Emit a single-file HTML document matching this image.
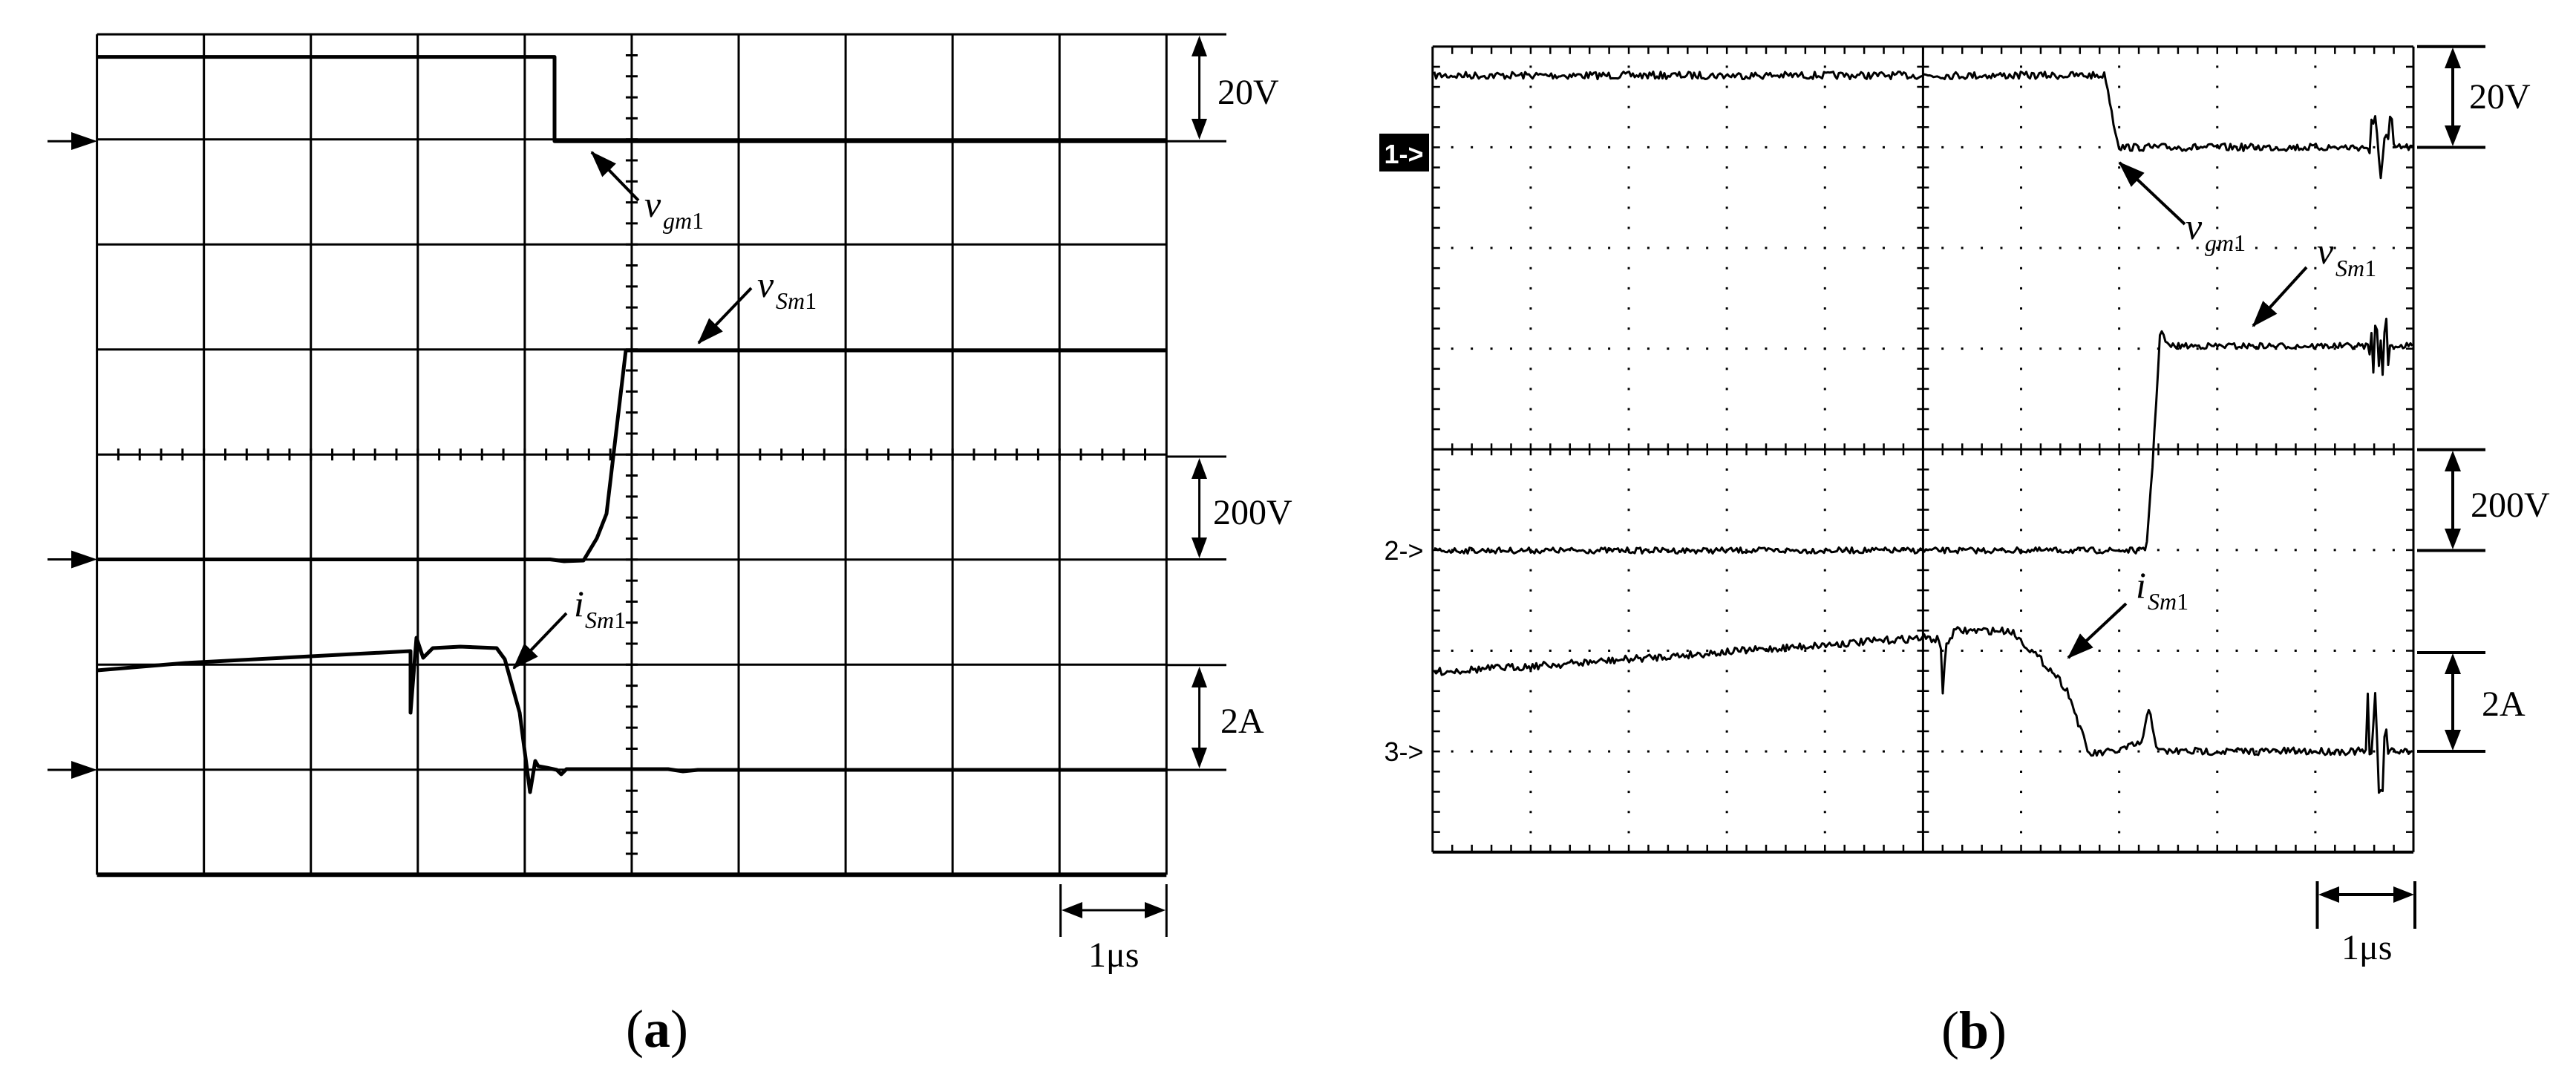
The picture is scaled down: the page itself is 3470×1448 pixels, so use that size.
<!DOCTYPE html>
<html><head><meta charset="utf-8"><style>
html,body{margin:0;padding:0;background:#fff;}
svg{display:block;}
text{font-family:"Liberation Serif",serif;fill:#000;}
</style></head><body>
<svg id="s" width="3470" height="1448" viewBox="0 0 3470 1448" xmlns="http://www.w3.org/2000/svg">
<defs>
<marker id="ah" markerWidth="36" markerHeight="26" refX="34" refY="13" orient="auto" markerUnits="userSpaceOnUse" viewBox="0 0 36 26"><path d="M0,0 L36,13 L0,26 z" fill="#000"/></marker>
</defs>
<rect width="3470" height="1448" fill="#fff"/>
<g id="gridA" stroke="#000" stroke-width="3" fill="none"></g>
<g id="gridB" fill="none"></g>

<!-- (a) traces -->
<g stroke="#000" stroke-width="5" fill="none" stroke-linejoin="round">
<polyline points="130.6,76.6 747,76.6 747,190.2 1571,190.2"/>
<polyline points="130.6,753.5 741,753.5 760,756 786,755 804,725 817,692 843,472 1571,472"/>
<polyline points="130.6,903 250,893 400,885 553,877 553,960 561,859 570,886 583,873 620,871 669,873 680,888 700,960 714,1067 721,1025 725,1032 736,1034 750,1037 756,1043 763,1036 900,1036 920,1039 940,1037 1571,1037"/>
</g>
<!-- (a) left arrows -->
<g stroke="#000" stroke-width="3">
<line x1="64" y1="190.2" x2="110" y2="190.2"/><line x1="64" y1="753.5" x2="110" y2="753.5"/><line x1="64" y1="1037" x2="110" y2="1037"/>
</g>
<g fill="#000">
<path d="M96,178 L131,190.2 L96,202 z"/><path d="M96,741.5 L131,753.5 L96,765.5 z"/><path d="M96,1025 L131,1037 L96,1049 z"/>
</g>
<!-- (a) scale brackets -->
<g stroke="#000" stroke-width="3">
<line x1="1571" y1="46.2" x2="1652" y2="46.2"/><line x1="1571" y1="190.2" x2="1652" y2="190.2"/>
<line x1="1571" y1="615" x2="1652" y2="615"/><line x1="1571" y1="753.5" x2="1652" y2="753.5"/>
<line x1="1571" y1="895.7" x2="1652" y2="895.7"/><line x1="1571" y1="1037" x2="1652" y2="1037"/>
<line x1="1615.6" y1="60" x2="1615.6" y2="176"/><line x1="1615.6" y1="629" x2="1615.6" y2="740"/><line x1="1615.6" y1="910" x2="1615.6" y2="1023"/>
<line x1="1428.6" y1="1191" x2="1428.6" y2="1262"/><line x1="1571.3" y1="1191" x2="1571.3" y2="1262"/>
<line x1="1442" y1="1226" x2="1558" y2="1226"/>
</g>
<g fill="#000">
<path d="M1605,76 L1615.6,48 L1626,76 z"/><path d="M1605,160 L1615.6,188 L1626,160 z"/>
<path d="M1605,645 L1615.6,617 L1626,645 z"/><path d="M1605,724 L1615.6,752 L1626,724 z"/>
<path d="M1605,926 L1615.6,898 L1626,926 z"/><path d="M1605,1007 L1615.6,1035 L1626,1007 z"/>
<path d="M1458,1215 L1430,1226 L1458,1237 z"/><path d="M1542,1215 L1570,1226 L1542,1237 z"/>
</g>
<g font-size="48">
<text x="1640" y="140">20V</text><text x="1634" y="706">200V</text><text x="1644" y="987">2A</text>
<text x="1466" y="1302">1μs</text>
</g>
<!-- (a) annotations -->
<g stroke="#000" stroke-width="4" marker-end="url(#ah)">
<line x1="860" y1="270" x2="797" y2="205"/>
<line x1="1012" y1="388" x2="941" y2="462"/>
<line x1="763" y1="826" x2="692" y2="900"/>
</g>
<g font-style="italic">
<text x="868" y="292" font-size="50">v</text><text x="893" y="308" font-size="32">gm<tspan font-style="normal">1</tspan></text>
<text x="1020" y="400" font-size="50">v</text><text x="1045" y="416" font-size="32">Sm<tspan font-style="normal">1</tspan></text>
<text x="773" y="830" font-size="50">i</text><text x="788" y="846" font-size="32">Sm<tspan font-style="normal">1</tspan></text>
</g>
<text x="885" y="1410" font-size="72" text-anchor="middle">(<tspan font-weight="bold">a</tspan>)</text>

<!-- (b) -->
<g id="traceB" stroke="#000" stroke-width="3" fill="none" stroke-linejoin="round">
<polyline id="b1" points="1932,101.6 2836,101.6 2848,170 2855,198.5 3251,198.5"/>
<polyline id="b2" points="1932,741.5 2891,741.5 2900,620 2910,443 2920,466 3251,466"/>
<polyline id="b3" points="1932,905 2100,895 2300,880 2590,859 2614,862 2617,934 2621,870 2633,849.6 2709,849.6 2740,880 2770,910 2786,932.7 2800,975 2814,1016 2850,1012 2886,1000 2895,951 2906,1012 3251,1012"/>
</g>
<!-- channel markers -->
<rect x="1858" y="180" width="67" height="51" fill="#000"/>
<text x="1891" y="220" font-size="36" text-anchor="middle" style="fill:#fff;font-family:'Liberation Sans',sans-serif;font-weight:bold">1-&gt;</text>
<text x="1891" y="754" font-size="36" text-anchor="middle" style="font-family:'Liberation Sans',sans-serif;">2-&gt;</text>
<text x="1891" y="1025" font-size="36" text-anchor="middle" style="font-family:'Liberation Sans',sans-serif;">3-&gt;</text>
<!-- (b) scale brackets -->
<g stroke="#000" stroke-width="4">
<line x1="3256" y1="62.8" x2="3348" y2="62.8"/><line x1="3256" y1="198.5" x2="3348" y2="198.5"/>
<line x1="3256" y1="605.8" x2="3348" y2="605.8"/><line x1="3256" y1="741.5" x2="3348" y2="741.5"/>
<line x1="3256" y1="879" x2="3348" y2="879"/><line x1="3256" y1="1012" x2="3348" y2="1012"/>
<line x1="3304" y1="76" x2="3304" y2="185"/><line x1="3304" y1="619" x2="3304" y2="728"/><line x1="3304" y1="892" x2="3304" y2="999"/>
<line x1="3121.5" y1="1187" x2="3121.5" y2="1251"/><line x1="3253" y1="1187" x2="3253" y2="1251"/>
<line x1="3135" y1="1205" x2="3240" y2="1205"/>
</g>
<g fill="#000">
<path d="M3293,92 L3304,64 L3315,92 z"/><path d="M3293,169 L3304,197 L3315,169 z"/>
<path d="M3293,635 L3304,607 L3315,635 z"/><path d="M3293,712 L3304,740 L3315,712 z"/>
<path d="M3293,908 L3304,880 L3315,908 z"/><path d="M3293,983 L3304,1011 L3315,983 z"/>
<path d="M3151,1194 L3123,1205 L3151,1216 z"/><path d="M3224,1194 L3252,1205 L3224,1216 z"/>
</g>
<g font-size="48">
<text x="3326" y="146">20V</text><text x="3328" y="696">200V</text><text x="3343" y="964">2A</text>
<text x="3154" y="1292">1μs</text>
</g>
<g stroke="#000" stroke-width="4" marker-end="url(#ah)">
<line x1="2943" y1="302" x2="2855" y2="219"/>
<line x1="3107" y1="360" x2="3035" y2="439"/>
<line x1="2864" y1="813" x2="2786" y2="886"/>
</g>
<g font-style="italic">
<text x="2944" y="322" font-size="50">v</text><text x="2970" y="338" font-size="32">gm<tspan font-style="normal">1</tspan></text>
<text x="3121" y="355" font-size="50">v</text><text x="3146" y="372" font-size="32">Sm<tspan font-style="normal">1</tspan></text>
<text x="2877" y="805" font-size="50">i</text><text x="2893" y="821" font-size="32">Sm<tspan font-style="normal">1</tspan></text>
</g>
<text x="2659" y="1412" font-size="72" text-anchor="middle">(<tspan font-weight="bold">b</tspan>)</text>
</svg>
<script>
(function(){
var NS="http://www.w3.org/2000/svg";
function L(g,x1,y1,x2,y2,w,extra){var l=document.createElementNS(NS,"line");l.setAttribute("x1",x1);l.setAttribute("y1",y1);l.setAttribute("x2",x2);l.setAttribute("y2",y2);l.setAttribute("stroke","#000");l.setAttribute("stroke-width",w);if(extra)for(var k in extra)l.setAttribute(k,extra[k]);g.appendChild(l);}
var gA=document.getElementById("gridA");
var x0=130.6,x1=1571.3,y0=46.2,y1=1178.3,dx=(x1-x0)/10,dy=(y1-y0)/8;
for(var i=0;i<=10;i++){var x=x0+i*dx;L(gA,x,y0,x,y1,3);}
for(var j=0;j<=8;j++){var y=y0+j*dy;L(gA,x0,y,x1,y,j==8?6:3);}
var cx=x0+5*dx,cy=y0+4*dy;
for(var k=1;k<40;k++){var y=y0+k*dy/5;L(gA,cx-8,y,cx+8,y,3);}
for(var k=1;k<50;k++){var x=x0+k*dx/5;L(gA,x,cy-8,x,cy+8,3);}
var gB=document.getElementById("gridB");
var bx0=1929.8,bx1=3251,by0=62.8,by1=1147.8,bdx=(bx1-bx0)/10,bdy=(by1-by0)/8;
var bcx=bx0+5*bdx,bcy=by0+4*bdy;
for(var i=1;i<10;i++){if(i==5)continue;var x=bx0+i*bdx;L(gB,x,by0,x,by1,3,{"stroke-dasharray":"3 "+(bdy/5-3).toFixed(2),"stroke-dashoffset":"-"+(bdy/5-1.5).toFixed(2)});}
for(var j=1;j<8;j++){if(j==4)continue;var y=by0+j*bdy;L(gB,bx0,y,bx1,y,3,{"stroke-dasharray":"3 "+(bdx/5-3).toFixed(2),"stroke-dashoffset":"-"+(bdx/5-1.5).toFixed(2)});}
L(gB,bx0,by0,bx1,by0,3);L(gB,bx0,by1,bx1,by1,4);L(gB,bx0,by0,bx0,by1,3);L(gB,bx1,by0,bx1,by1,3);
L(gB,bcx,by0,bcx,by1,3);L(gB,bx0,bcy,bx1,bcy,3);
for(var k=1;k<50;k++){var x=bx0+k*bdx/5;L(gB,x,by0,x,by0+10,2.5);L(gB,x,by1,x,by1-10,2.5);L(gB,x,bcy-8,x,bcy+8,2.5);}
for(var k=1;k<40;k++){var y=by0+k*bdy/5;L(gB,bx0,y,bx0+10,y,2.5);L(gB,bx1,y,bx1-10,y,2.5);L(gB,bcx-8,y,bcx+8,y,2.5);}
var seed=7;function r(){seed=(seed*16807)%2147483647;return seed/2147483647-0.5;}
function interp(pts,x){for(var i=0;i<pts.length-1;i++){if(x>=pts[i][0]&&x<=pts[i+1][0]){var t=(x-pts[i][0])/((pts[i+1][0]-pts[i][0])||1);return pts[i][1]+t*(pts[i+1][1]-pts[i][1]);}}return pts[pts.length-1][1];}
function noisy(id,amp,bursts){var el=document.getElementById(id);var raw=el.getAttribute("points").trim().split(/\s+/).map(function(p){return p.split(",").map(Number);});
var out=[];var X0=raw[0][0],X1=raw[raw.length-1][0];
for(var x=X0;x<=X1;x+=2.5){var y=interp(raw,x);var a=amp;for(var b=0;b<bursts.length;b++){if(Math.abs(x-bursts[b][0])<bursts[b][1])a=bursts[b][2];}
y+=r()*a*2;out.push(x.toFixed(1)+","+y.toFixed(1));}
el.setAttribute("points",out.join(" "));}
noisy("b1",5,[[3207,16,55]]);
noisy("b2",4,[[3205,14,40]]);
noisy("b3",5,[[3201,14,85],[2617,3,0]]);
})();
</script>
</body></html>
